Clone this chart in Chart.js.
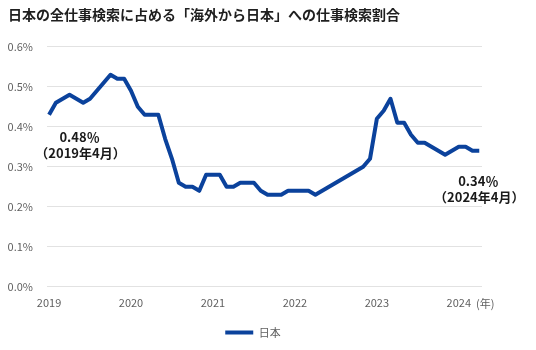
<!DOCTYPE html>
<html>
<head>
<meta charset="utf-8">
<script src="https://cdn.jsdelivr.net/npm/chart.js@4"></script>
<style>
  html, body { margin: 0; padding: 0; background: #fff; }
  #wrap { width: 536px; height: 350px; }
</style>
</head>
<body>
<div id="wrap"><canvas id="share"></canvas></div>
<script>
// data (monthly, Jan 2019 - Apr 2024), values in %
var years = ['2019', '2020', '2021', '2022', '2023', '2024'];
var values = [
  0.43, 0.46, 0.47, 0.48, 0.47, 0.46, 0.47, 0.49, 0.51, 0.53, 0.52, 0.52,
  0.49, 0.45, 0.43, 0.43, 0.43, 0.37, 0.32, 0.26, 0.25, 0.25, 0.24, 0.28,
  0.28, 0.28, 0.25, 0.25, 0.26, 0.26, 0.26, 0.24, 0.23, 0.23, 0.23, 0.24,
  0.24, 0.24, 0.24, 0.23, 0.24, 0.25, 0.26, 0.27, 0.28, 0.29, 0.30, 0.32,
  0.42, 0.44, 0.47, 0.41, 0.41, 0.38, 0.36, 0.36, 0.35, 0.34, 0.33, 0.34,
  0.35, 0.35, 0.34, 0.34
];
var seriesName = '日本';
var yTicks = [0, 0.1, 0.2, 0.3, 0.4, 0.5, 0.6];
// callouts: month index and its label
var notes = [
  { idx: 3, when: '（2019年4月）' },
  { idx: 63, when: '（2024年4月）' }
];

var FONT = "'Noto Sans CJK JP', 'Noto Sans', sans-serif";
var BLUE = '#0b429c';
var GREY = '#5f5f5f';

var points = values.map(function (v, i) { return { x: i, y: v }; });

// draws the two callouts and the "(年)" unit next to the last year
var extras = {
  id: 'extras',
  afterLayout: function (chart) {
    // legend in the reference sits a bit right of the plain centre
    chart.legend.left += 8;
    chart.legend.right += 8;
  },
  afterDraw: function (chart) {
    var ctx = chart.ctx;
    var xs = chart.scales.x, ys = chart.scales.y;
    ctx.save();
    ctx.fillStyle = '#1a1a1a';
    ctx.textAlign = 'center';
    ctx.textBaseline = 'middle';
    ctx.font = 'bold 13px ' + FONT;
    notes.forEach(function (n, k) {
      var px = xs.getPixelForValue(n.idx);
      var py = ys.getPixelForValue(values[n.idx]);
      var dx = k === 0 ? 10 : -1;
      var dy = k === 0 ? 42 : 30;
      ctx.fillText(values[n.idx].toFixed(2) + '％', px + dx, py + dy);
      ctx.fillText(n.when, px + dx + 1, py + dy + 16);
    });
    // unit after the last year label
    ctx.font = '11px ' + FONT;
    ctx.fillStyle = GREY;
    ctx.textAlign = 'left';
    var lx = xs.getPixelForValue(60) + ctx.measureText(years[5]).width / 2 + 5;
    ctx.fillText('(年)', lx, xs.top + 17);
    ctx.restore();
  }
};

var ctx = document.getElementById('share').getContext('2d');
var chart = new Chart(ctx, {
  type: 'line',
  data: {
    datasets: [{
      label: seriesName,
      data: points,
      borderColor: BLUE,
      backgroundColor: BLUE,
      borderWidth: 4,
      pointRadius: 0,
      tension: 0,
      borderJoinStyle: 'round'
    }]
  },
  options: {
    responsive: true,
    maintainAspectRatio: false,
    animation: false,
    layout: { autoPadding: false, padding: { left: 8, right: 54, top: 0, bottom: 2 } },
    plugins: {
      title: {
        display: true,
        text: '日本の全仕事検索に占める「海外から日本」への仕事検索割合',
        align: 'start',
        color: '#1f1f1f',
        font: { family: FONT, size: 14, weight: 'bold' },
        padding: { top: 6, bottom: 24 }
      },
      legend: {
        position: 'bottom',
        labels: {
          usePointStyle: true,
          pointStyle: 'line',
          pointStyleWidth: 28,
          color: GREY,
          font: { family: FONT, size: 11 },
          padding: 10
        }
      },
      tooltip: { enabled: false }
    },
    scales: {
      x: {
        type: 'linear',
        min: -0.3,
        max: 63.4,
        grid: { display: false },
        border: { display: false },
        afterBuildTicks: function (axis) {
          axis.ticks = years.map(function (y, i) { return { value: i * 12 }; });
        },
        afterFit: function (axis) { axis.height += 7; },
        ticks: {
          color: GREY,
          font: { family: FONT, size: 11 },
          padding: 1,
          maxRotation: 0,
          callback: function (v, i) { return years[i]; }
        }
      },
      y: {
        min: 0,
        max: 0.6,
        grid: { color: '#e2e2e2', lineWidth: 1, drawTicks: false },
        border: { display: false },
        afterBuildTicks: function (axis) {
          axis.ticks = yTicks.map(function (v) { return { value: v }; });
        },
        afterFit: function (axis) { axis.width = 39; },
        ticks: {
          color: GREY,
          font: { family: FONT, size: 11 },
          padding: 14,
          callback: function (v) { return v.toFixed(1) + '%'; }
        }
      }
    }
  },
  plugins: [extras]
});
</script>
</body>
</html>
